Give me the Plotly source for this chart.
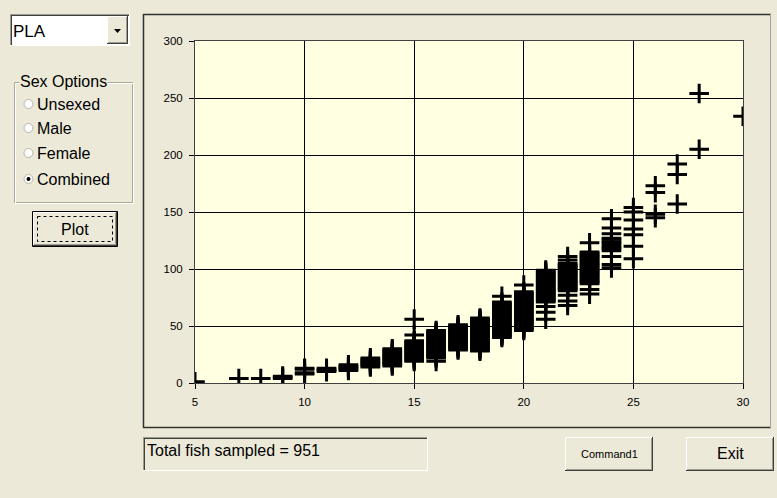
import plotly.graph_objects as go

# ---- data -------------------------------------------------------------
species = "PLA"
sex_options = ["Unsexed", "Male", "Female", "Combined"]
selected_sex = "Combined"
total_fish = 951

x_ticks = [5, 10, 15, 20, 25, 30]
y_ticks = [0, 50, 100, 150, 200, 250, 300]

# weights recorded at each length class
w05 = [1]
w07 = [4]
w08 = [4]
w09 = [4, 5, 6]
w10 = [8, 9, 12, 13]
w11 = [10, 11, 12, 13]
w12 = [11, 12, 13, 14, 15, 16]
w13 = [14, 15, 16, 17, 18, 19, 20, 21, 22]
w14 = [15, 16, 17, 18, 19, 20, 21, 22, 23, 24, 25, 26, 27, 28, 29, 30]
w15 = [19, 20, 21, 22, 23, 24, 25, 26, 27, 28, 29, 30, 31, 32, 33, 34, 35, 36, 37, 42, 56]
w16 = [19, 22, 23, 24, 25, 26, 27, 28, 29, 30, 31, 32, 33, 34, 35, 36, 37, 38, 39, 40,
       41, 42, 43, 44, 45, 46]
w17 = [29, 30, 31, 32, 33, 34, 35, 36, 37, 38, 39, 40, 41, 42, 43, 44, 45, 46, 47, 48,
       49, 50, 51]
w18 = [28, 29, 30, 31, 32, 33, 34, 35, 36, 37, 38, 39, 40, 41, 42, 43, 44, 45, 46, 47,
       48, 49, 50, 51, 52, 53, 54, 55, 56, 57]
w19 = [40, 41, 42, 43, 44, 45, 46, 47, 48, 49, 50, 51, 52, 53, 54, 55, 56, 57, 58, 59,
       60, 61, 62, 63, 64, 65, 66, 67, 68, 69, 70, 71, 76]
w20 = [46, 47, 48, 49, 50, 51, 52, 53, 54, 55, 56, 57, 58, 59, 60, 61, 62, 63, 64, 65,
       66, 67, 68, 69, 70, 71, 72, 73, 74, 75, 76, 77, 78, 79, 80, 86]
w21 = [56, 62, 67, 71, 72, 73, 74, 75, 76, 77, 78, 79, 80, 81, 82, 83, 84, 85, 86, 87,
       88, 89, 90, 91, 92, 93, 94, 95, 96, 97, 98, 99]
w22 = [68, 72, 77, 81, 82, 83, 84, 85, 86, 87, 88, 89, 90, 91, 92, 93, 94, 95, 96, 97,
       98, 99, 100, 101, 102, 103, 104, 105, 108, 111]
w23 = [78, 82, 87, 88, 89, 90, 91, 92, 93, 94, 95, 96, 97, 98, 99, 100, 101, 102, 103,
       104, 105, 106, 107, 108, 109, 110, 111, 112, 113, 114, 115, 123]
w24 = [101, 104, 111, 116, 118, 119, 121, 123, 124, 126, 127, 131, 136, 144]
w25 = [109, 120, 130, 135, 143, 150, 154]
w26 = [145, 148, 167, 173]
w27 = [157, 183, 192]
w28 = [205, 254]
w30 = [234]

samples = [(5, w05), (7, w07), (8, w08), (9, w09), (10, w10), (11, w11), (12, w12),
           (13, w13), (14, w14), (15, w15), (16, w16), (17, w17), (18, w18), (19, w19),
           (20, w20), (21, w21), (22, w22), (23, w23), (24, w24), (25, w25), (26, w26),
           (27, w27), (28, w28), (30, w30)]

fish_length = [ln for ln, ws in samples for _ in ws]
fish_weight = [w for _, ws in samples for w in ws]

# ---- form geometry (pixels) ------------------------------------------
W, H = 777, 498
PL, PR, PT, PB = 195, 743, 41, 383
FACE = "#ECE9D8"
UI_FONT = "Liberation Sans"


def xp(px):
    return (px - PL) / (PR - PL)


def yp(py):
    return (PB - py) / (PB - PT)


shapes = []
notes = []


def line(x0, y0, x1, y1, color, width=1, dash=None):
    d = dict(type="line", xref="paper", yref="paper",
             x0=xp(x0), y0=yp(y0), x1=xp(x1), y1=yp(y1),
             line=dict(color=color, width=width), layer="above")
    if dash:
        d["line"]["dash"] = dash
    shapes.append(d)


def box(x0, y0, x1, y1, fill, color=None, width=1):
    shapes.append(dict(type="rect", xref="paper", yref="paper",
                       x0=xp(x0), y0=yp(y0), x1=xp(x1), y1=yp(y1),
                       fillcolor=fill,
                       line=dict(color=color or fill, width=width if color else 0),
                       layer="above"))


def raised(x0, y0, x1, y1):
    box(x0, y0, x1, y1, FACE)
    line(x0 + .5, y0 + .5, x1 - .5, y0 + .5, "#FFFFFF")
    line(x0 + .5, y0 + .5, x0 + .5, y1 - .5, "#FFFFFF")
    line(x0, y1 - .5, x1, y1 - .5, "#404040")
    line(x1 - .5, y0, x1 - .5, y1, "#404040")
    line(x0 + 1, y1 - 1.5, x1 - 1, y1 - 1.5, "#9D9A8E")
    line(x1 - 1.5, y0 + 1, x1 - 1.5, y1 - 1, "#9D9A8E")


def sunken(x0, y0, x1, y1, fill):
    box(x0, y0, x1, y1, fill)
    line(x0, y0 + .5, x1, y0 + .5, "#9D9A8E")
    line(x0 + .5, y0, x0 + .5, y1, "#9D9A8E")
    line(x0 + 1, y0 + 1.5, x1 - 1, y0 + 1.5, "#404040")
    line(x0 + 1.5, y0 + 1, x0 + 1.5, y1 - 1, "#404040")
    line(x0, y1 - .5, x1, y1 - .5, "#FFFFFF")
    line(x1 - .5, y0, x1 - .5, y1, "#FFFFFF")


def label(x, y, text, size, anchor="left", color="#000000", bg=None,
          family=UI_FONT):
    notes.append(dict(xref="paper", yref="paper", x=xp(x), y=yp(y), text=text,
                      showarrow=False, xanchor=anchor, yanchor="middle",
                      font=dict(family=family, size=size, color=color),
                      bgcolor=bg or "rgba(0,0,0,0)", borderpad=0))


# window caption text running off the top edge
notes.append(dict(xref="paper", yref="paper", x=xp(11.4), y=yp(2.5),
                  text="<b>Length vs. Weight for Combined Sexes from Length Weight Data</b>",
                  showarrow=False, xanchor="left", yanchor="bottom",
                  font=dict(family="Liberation Serif", size=21.7, color="#000000")))

# species combo box
sunken(10, 14, 130, 46, "#FFFFFF")
raised(107, 16, 128, 44)
shapes.append(dict(type="path", xref="paper", yref="paper", layer="above",
                   path=f"M{xp(114)},{yp(29)} L{xp(121)},{yp(29)} L{xp(117.5)},{yp(33)} Z",
                   fillcolor="#000000", line=dict(width=0)))
label(12, 31, species, 17)

# sex options group
line(14.5, 82.5, 132.5, 82.5, "#ACA899")
line(14.5, 82.5, 14.5, 202.5, "#ACA899")
line(14.5, 202.5, 132.5, 202.5, "#ACA899")
line(132.5, 82.5, 132.5, 202.5, "#ACA899")
line(15.5, 83.5, 133.5, 83.5, "#FFFFFF")
line(15.5, 83.5, 15.5, 203.5, "#FFFFFF")
line(15.5, 203.5, 133.5, 203.5, "#FFFFFF")
line(133.5, 83.5, 133.5, 203.5, "#FFFFFF")
label(19, 82, "Sex Options", 16, bg=FACE)
for opt, cy in zip(sex_options, [104, 128, 153, 179]):
    shapes.append(dict(type="circle", xref="paper", yref="paper", layer="above",
                       x0=xp(24), x1=xp(33), y0=yp(cy - 4.5), y1=yp(cy + 4.5),
                       fillcolor="#FFFFFF", line=dict(color="#B8B4A6", width=1)))
    if opt == selected_sex:
        shapes.append(dict(type="circle", xref="paper", yref="paper", layer="above",
                           x0=xp(26.5), x1=xp(30.5), y0=yp(cy - 2), y1=yp(cy + 2),
                           fillcolor="#000000", line=dict(width=0)))
    label(36, cy, opt, 16)

# plot button (default button with focus rectangle)
raised(33, 212, 117, 246)
shapes.append(dict(type="rect", xref="paper", yref="paper", layer="above",
                   x0=xp(32.5), x1=xp(117.5), y0=yp(211.5), y1=yp(246.5),
                   line=dict(color="#000000", width=1)))
shapes.append(dict(type="rect", xref="paper", yref="paper", layer="above",
                   x0=xp(37.5), x1=xp(112.5), y0=yp(216.5), y1=yp(241.5),
                   line=dict(color="#000000", width=1, dash="dot")))
label(75, 229, "Plot", 16, anchor="center")

# chart frame
line(143, 14.5, 771, 14.5, "#303030", 1.5)
line(143.5, 14, 143.5, 428, "#303030", 1.5)
line(143, 427.5, 771, 427.5, "#303030", 1.5)
line(770.5, 14, 770.5, 428, "#A0A0A0", 1)

# status box and buttons
sunken(143, 437, 428, 471, FACE)
label(146, 451, f"Total fish sampled = {total_fish}", 16)
raised(565, 437, 653, 471)
label(609, 454, "Command1", 11, anchor="center")
raised(686, 437, 774, 471)
label(730, 454, "Exit", 16, anchor="center")

# ---- figure -----------------------------------------------------------
fig = go.Figure(go.Scatter(
    x=fish_length, y=fish_weight, mode="markers", cliponaxis=True,
    marker=dict(symbol="cross-thin", size=14, color="#000000",
                line=dict(color="#000000", width=3)),
    hoverinfo="skip"))

axis_common = dict(showgrid=True, gridcolor="#000000", gridwidth=1,
                   showline=True, linecolor="#404040", linewidth=1, mirror=True,
                   ticks="outside", ticklen=5, tickcolor="#000000", tickwidth=1,
                   zeroline=False, fixedrange=True,
                   tickfont=dict(family=UI_FONT, size=11.5, color="#000000"))

fig.update_xaxes(range=[5, 30], tickvals=x_ticks, ticktext=[str(v) for v in x_ticks],
                 ticklabelstandoff=3, **axis_common)
fig.update_yaxes(range=[0, 300], tickvals=y_ticks, ticktext=[str(v) for v in y_ticks],
                 ticklabelstandoff=4, **axis_common)

fig.update_layout(
    width=W, height=H, autosize=False,
    margin=dict(l=PL, r=W - PR, t=PT, b=H - PB, pad=0),
    paper_bgcolor=FACE, plot_bgcolor="#FFFFE1",
    showlegend=False, shapes=shapes, annotations=notes,
)

fig.write_html("out.html", config={"displayModeBar": False})
